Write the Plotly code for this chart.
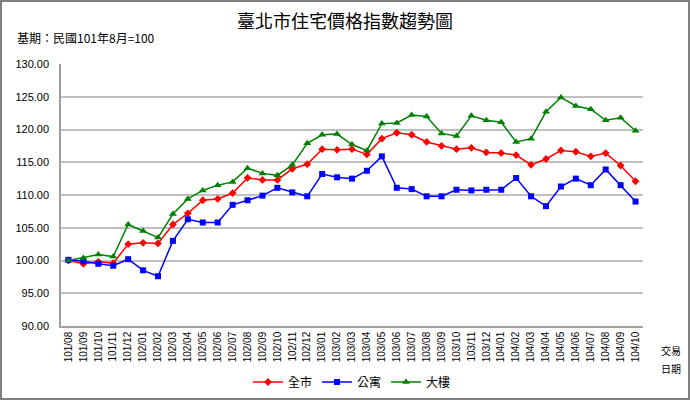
import plotly.graph_objects as go

months = ["101/08","101/09","101/10","101/11","101/12",
          "102/01","102/02","102/03","102/04","102/05","102/06","102/07","102/08","102/09","102/10","102/11","102/12",
          "103/01","103/02","103/03","103/04","103/05","103/06","103/07","103/08","103/09","103/10","103/11","103/12",
          "104/01","104/02","104/03","104/04","104/05","104/06","104/07","104/08","104/09","104/10"]

city = [100.0, 99.5, 99.8, 99.6, 102.5,
        102.7, 102.6, 105.5, 107.2, 109.2, 109.4, 110.3, 112.6, 112.3, 112.3, 114.0, 114.7,
        117.0, 116.9, 117.0, 116.2, 118.6, 119.5, 119.2, 118.1, 117.5, 117.0, 117.2, 116.5,
        116.4, 116.1, 114.6, 115.5, 116.8, 116.6, 115.9, 116.4, 114.5, 112.1]

apartment = [100.1, 99.9, 99.5, 99.2, 100.2,
             98.5, 97.6, 103.0, 106.3, 105.8, 105.8, 108.5, 109.2, 109.9, 111.1, 110.4, 109.8,
             113.2, 112.7, 112.5, 113.7, 115.9, 111.1, 110.9, 109.8, 109.8, 110.8, 110.7, 110.8,
             110.8, 112.6, 109.8, 108.3, 111.3, 112.5, 111.5, 113.9, 111.5, 109.0]

building = [100.0, 100.4, 100.9, 100.6, 105.5,
            104.5, 103.5, 107.1, 109.4, 110.7, 111.5, 112.0, 114.1, 113.3, 113.0, 114.6, 117.9,
            119.2, 119.3, 117.7, 116.8, 120.9, 121.0, 122.2, 122.0, 119.4, 119.0, 122.1, 121.4,
            121.1, 118.1, 118.6, 122.7, 124.9, 123.6, 123.1, 121.4, 121.8, 119.8]

y_ticks = [90, 95, 100, 105, 110, 115, 120, 125, 130]

series = [
    ("全市", city, "#ff0000", "diamond", 6),
    ("公寓", apartment, "#0000ff", "square", 6),
    ("大樓", building, "#008000", "triangle-up", 7),
]

CJK = "Noto Sans CJK TC"

fig = go.Figure()
for name, vals, color, sym, size in series:
    fig.add_trace(go.Scatter(
        x=months, y=vals, name=name, mode="lines+markers",
        line=dict(color=color, width=1.5),
        marker=dict(symbol=sym, size=size, color=color, line=dict(width=0)),
    ))

L, R, T, B = 61, 47, 64, 74
W, H = 690, 400
pw, ph = W - L - R, H - T - B

fig.update_layout(
    width=W, height=H,
    margin=dict(l=L, r=R, t=T, b=B, autoexpand=False),
    paper_bgcolor="white", plot_bgcolor="white",
    title=dict(text="臺北市住宅價格指數趨勢圖", x=0.5, xref="container", xanchor="center",
               y=1 - 22 / H, yref="container", yanchor="middle",
               font=dict(family=CJK, size=18, color="black")),
    showlegend=True,
    legend=dict(orientation="h", x=0.5, xanchor="center", y=-56 / ph, yanchor="middle",
                font=dict(family=CJK, size=12, color="black"), bgcolor="rgba(0,0,0,0)",
                itemwidth=30, tracegroupgap=0),
    xaxis=dict(type="category", tickangle=-90, showgrid=False, automargin=False,
               showline=True, linecolor="#a0a0a0", linewidth=1.5,
               ticks="", tickfont=dict(family="Liberation Sans", size=10, color="black"),
               range=[-0.5, len(months) - 0.5]),
    yaxis=dict(range=[90, 130], tickvals=y_ticks, automargin=False,
               ticktext=[f"{v:.2f}" for v in y_ticks],
               showgrid=True, gridcolor="#c0c0c0", gridwidth=1.5,
               showline=True, linecolor="#a0a0a0", linewidth=1.5,
               zeroline=False, ticks="", ticklabelstandoff=8,
               tickfont=dict(family="Liberation Sans", size=11, color="black")),
    annotations=[
        dict(text="基期：民國101年8月=100", xref="paper", yref="paper",
             x=-46 / pw, y=1 + (T - 37) / ph, xanchor="left", yanchor="middle",
             showarrow=False, font=dict(family=CJK, size=12, color="black")),
        dict(text="交易", xref="paper", yref="paper",
             x=1 + (671 - (W - R)) / pw, y=-(350 - (H - B)) / ph, xanchor="center", yanchor="middle",
             showarrow=False, font=dict(family=CJK, size=10, color="black")),
        dict(text="日期", xref="paper", yref="paper",
             x=1 + (671 - (W - R)) / pw, y=-(368 - (H - B)) / ph, xanchor="center", yanchor="middle",
             showarrow=False, font=dict(family=CJK, size=10, color="black")),
    ],
    shapes=[
        dict(type="rect", xref="paper", yref="paper",
             x0=-(L - 1) / pw, x1=1 + (R - 1) / pw, y0=-(B - 1) / ph, y1=1 + (T - 1) / ph,
             line=dict(color="#808080", width=2), fillcolor="rgba(0,0,0,0)", layer="below"),
    ],
)

fig.write_html("out.html")
